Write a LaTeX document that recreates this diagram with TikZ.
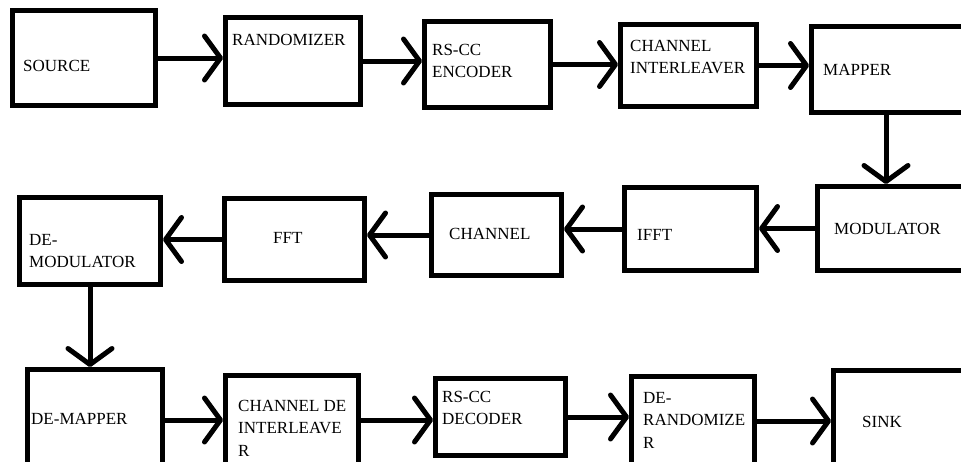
\documentclass[tikz,border=0pt]{standalone}
\usepackage{fontspec}
\setmainfont{Liberation Serif}
\usetikzlibrary{arrows.meta, positioning}

\begin{document}
\begin{tikzpicture}[
    x=1pt, y=-1pt,
    block/.style={draw, line width=5pt, inner sep=0pt},
    txt/.style={anchor=base west, inner sep=0pt, align=left, font=\fontsize{17}{22.5}\selectfont},
    arrow/.style={-{Straight Barb[length=16pt, width=44pt, round]}, line width=5pt}
]
    \useasboundingbox (0,0) rectangle (961,461);
    \clip (0,0) rectangle (961,461);

    % Row 1
    \node[block, minimum width=143pt, minimum height=95pt] (source) at (84,58) {};
    \node[block, minimum width=135pt, minimum height=87pt] (random) at (293,61) {};
    \node[block, minimum width=126pt, minimum height=86pt] (encoder) at (487.5,64.5) {};
    \node[block, minimum width=136pt, minimum height=82pt] (interl) at (688.5,65.5) {};
    \node[block, minimum width=200pt, minimum height=86pt] (mapper) at (911.5,69.5) {};

    % (base of a multi-line label = its last line)
    \node[txt] (source-t) at (23,71) {SOURCE};
    \node[txt] (random-t) at (232,45) {RANDOMIZER};
    \node[txt] (encoder-t) at (432,77.5) {RS-CC\\ENCODER};
    \node[txt] (interl-t) at (630,73.5) {CHANNEL\\INTERLEAVER};
    \node[txt] (mapper-t) at (823,75) {MAPPER};

    % Row 2
    \node[block, minimum width=200pt, minimum height=84pt] (modul) at (917.5,228.5) {};
    \node[block, minimum width=132pt, minimum height=83pt] (ifft) at (690.5,229) {};
    \node[block, minimum width=130pt, minimum height=81pt] (channel) at (496.5,235) {};
    \node[block, minimum width=140pt, minimum height=82pt] (fft) at (294.5,239.5) {};
    \node[block, minimum width=141pt, minimum height=87pt] (demod) at (90,241) {};

    \node[txt] (modul-t) at (834,234) {MODULATOR};
    \node[txt] (ifft-t) at (637,240) {IFFT};
    \node[txt] (channel-t) at (449,239) {CHANNEL};
    \node[txt] (fft-t) at (273,243) {FFT};
    \node[txt] (demod-t) at (29,267.5) {DE-\\MODULATOR};

    % Row 3
    \node[block, minimum width=135pt, minimum height=101pt] (demap) at (95,420) {};
    \node[block, minimum width=133pt, minimum height=89pt] (deintl) at (292,420) {};
    \node[block, minimum width=130pt, minimum height=77pt] (decoder) at (500.5,417) {};
    \node[block, minimum width=123pt, minimum height=89pt] (derand) at (693,421) {};
    \node[block, minimum width=200pt, minimum height=99pt] (sink) at (933.5,420) {};

    \node[txt] (demap-t) at (31,424) {DE-MAPPER};
    \node[txt] (deintl-t) at (238,456) {CHANNEL DE\\INTERLEAVE\\R};
    \node[txt] (decoder-t) at (442,424.5) {RS-CC\\DECODER};
    \node[txt] (derand-t) at (643,448) {DE-\\RANDOMIZE\\R};
    \node[txt] (sink-t) at (862,427) {SINK};

    % Arrows
    \coordinate (down1) at (886,0);
    \draw[arrow] (source.east) -- (source.east -| random.west);
    \draw[arrow] (random.east) -- (random.east -| encoder.west);
    \draw[arrow] (encoder.east) -- (encoder.east -| interl.west);
    \draw[arrow] (interl.east) -- (interl.east -| mapper.west);
    \draw[arrow] (mapper.south -| down1) -- (modul.north -| down1);
    \draw[arrow] (modul.west) -- (modul.west -| ifft.east);
    \draw[arrow] (ifft.west) -- (ifft.west -| channel.east);
    \draw[arrow] (channel.west) -- (channel.west -| fft.east);
    \draw[arrow] (fft.west) -- (fft.west -| demod.east);
    \draw[arrow] (demod.south) -- (demod.south |- demap.north);
    \draw[arrow] (demap.east) -- (demap.east -| deintl.west);
    \draw[arrow] (deintl.east) -- (deintl.east -| decoder.west);
    \draw[arrow] (decoder.east) -- (decoder.east -| derand.west);
    \draw[arrow] (derand.east) -- (derand.east -| sink.west);

\end{tikzpicture}
\end{document}
